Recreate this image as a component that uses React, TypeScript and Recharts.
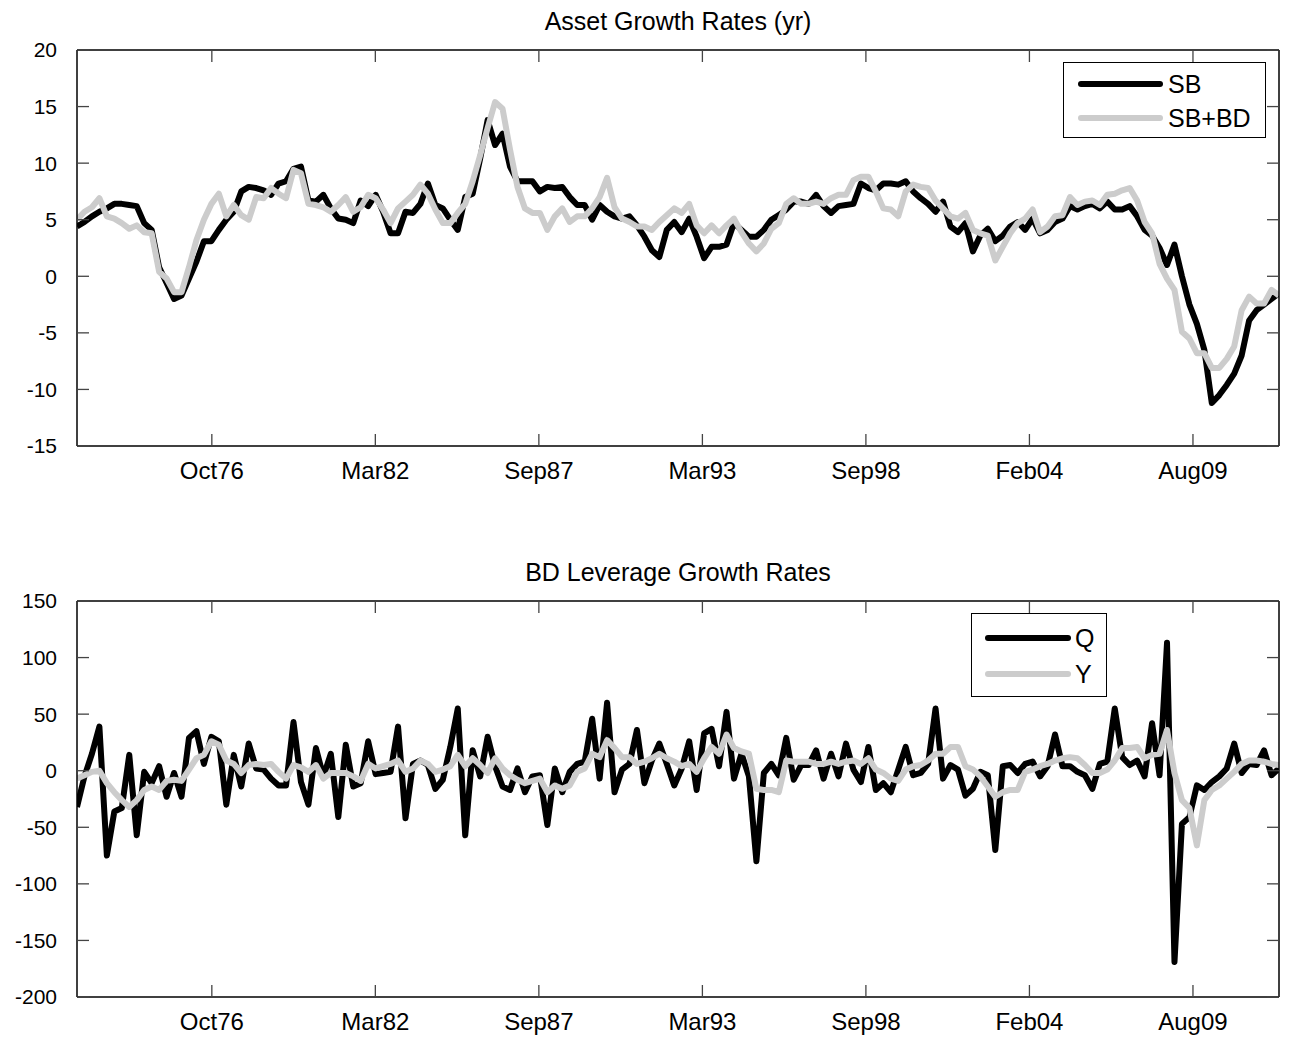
import React from 'react';
import { LineChart, Line, XAxis, YAxis, Legend } from 'recharts';

// quarterly observations, 1972Q1 .. 2012Q2 (x = fractional year at quarter end)
const FIRST_QUARTER_END = 1972.25;

const SB = [
  4.4, 4.8, 5.3, 5.7, 6.0, 6.4, 6.4, 6.3, 6.2, 4.7, 4.1, 0.8, -0.6, -2.0, -1.7, -0.2, 1.3, 3.1, 3.1, 4.1,
  5.0, 5.7, 7.5, 7.9, 7.8, 7.6, 7.2, 8.2, 8.4, 9.5, 9.7, 6.7, 6.6, 7.2, 6.0, 5.1, 5.0, 4.7, 6.7, 6.2,
  7.2, 5.7, 3.8, 3.8, 5.7, 5.6, 6.4, 8.2, 6.3, 6.0, 5.0, 4.1, 7.0, 7.3, 10.4, 13.8, 11.6, 12.6, 9.7, 8.4,
  8.4, 8.4, 7.5, 7.9, 7.8, 7.9, 7.0, 6.3, 6.3, 5.0, 6.3, 5.7, 5.3, 5.1, 5.3, 4.5, 3.5, 2.3, 1.7, 4.1,
  4.8, 3.9, 5.1, 3.5, 1.6, 2.6, 2.6, 2.8, 4.7, 4.1, 3.5, 3.5, 4.1, 5.0, 5.4, 5.9, 6.6, 6.6, 6.4, 7.2,
  6.2, 5.6, 6.2, 6.3, 6.4, 8.2, 7.8, 7.6, 8.2, 8.2, 8.1, 8.4, 7.5, 6.9, 6.4, 5.7, 6.6, 4.4, 3.9, 4.7,
  2.2, 3.6, 4.2, 3.1, 3.6, 4.4, 4.8, 4.1, 5.1, 3.8, 4.1, 4.8, 5.1, 6.2, 5.9, 6.2, 6.4, 6.0, 6.6, 5.9,
  5.9, 6.2, 5.3, 4.1, 3.6, 2.5, 1.0, 2.8, 0.0, -2.5, -4.2, -6.5, -11.2, -10.5, -9.6, -8.6, -7.0, -3.9, -3.0, -2.5,
  -2.0, -1.5,
];

const SB_BD = [
  5.0, 5.7, 6.1, 6.9, 5.3, 5.1, 4.7, 4.2, 4.5, 3.9, 3.8, 0.4, -0.2, -1.4, -1.4, 0.8, 3.2, 5.0, 6.4, 7.3,
  5.3, 6.3, 5.4, 5.0, 7.0, 6.9, 7.8, 7.3, 6.9, 9.4, 9.1, 6.4, 6.3, 6.1, 5.7, 6.3, 7.0, 5.7, 6.1, 7.2,
  6.9, 5.9, 4.7, 6.0, 6.6, 7.2, 8.1, 7.3, 5.9, 4.7, 4.7, 5.6, 6.4, 8.4, 10.7, 13.1, 15.4, 14.8, 11.2, 7.9,
  6.0, 5.6, 5.6, 4.1, 5.3, 6.0, 4.8, 5.3, 5.3, 6.0, 7.0, 8.7, 6.1, 5.1, 4.8, 4.4, 4.4, 4.1, 4.8, 5.4,
  6.0, 5.6, 6.4, 4.5, 3.8, 4.5, 3.8, 4.5, 5.1, 3.9, 2.9, 2.2, 2.9, 4.2, 4.7, 6.4, 6.9, 6.4, 6.4, 6.6,
  6.4, 6.9, 7.2, 7.2, 8.5, 8.8, 8.8, 7.5, 6.0, 5.9, 5.3, 7.5, 8.1, 7.9, 7.8, 6.7, 6.0, 5.3, 5.1, 5.6,
  4.1, 3.8, 3.6, 1.4, 2.6, 3.8, 4.7, 5.1, 5.9, 3.9, 4.4, 5.3, 5.4, 7.0, 6.3, 6.6, 6.7, 6.3, 7.2, 7.3,
  7.6, 7.8, 6.7, 4.8, 3.8, 1.1, -0.2, -1.2, -4.9, -5.5, -6.8, -6.8, -8.1, -8.1, -7.3, -6.2, -3.0, -1.8, -2.4, -2.4,
  -1.2, -1.7,
];

const LEV_Q = [
  -32, -5, 15, 39, -75, -36, -33, 14, -57, -1, -11, 4, -23, -2, -23, 29, 35, 6, 30, 26,
  -30, 14, -14, 24, 2, 1, -7, -13, -13, 43, -10, -30, 20, -5, 15, -41, 23, -14, -11, 26,
  -3, -2, -1, 39, -42, 6, 9, 5, -16, -8, 21, 55, -57, 18, -5, 30, 4, -14, -17, 2,
  -19, -5, -4, -48, 2, -19, -1, 6, 8, 46, -7, 60, -19, 1, 6, 36, -11, 9, 24, 6,
  -13, 2, 26, -17, 33, 37, 4, 52, -7, 15, -5, -80, -2, 6, -4, 29, -8, 5, 5, 18,
  -7, 15, -5, 24, 1, -10, 21, -17, -11, -19, 1, 21, -4, -2, 6, 55, -7, 5, 1, -22,
  -16, -1, -4, -70, 4, 5, -2, 6, 8, -5, 4, 32, 4, 4, -1, -4, -16, 6, 8, 55,
  12, 5, 9, -5, 42, -4, 113, -169, -47, -41, -13, -17, -10, -5, 2, 24, -2, 6, 5, 18,
  -4, 2,
];

const LEV_Y = [
  -7, -4, -1, 0, -11, -19, -26, -32, -26, -17, -14, -17, -9, -8, -9, 1, 11, 14, 26, 23,
  9, 6, -2, 5, 6, 5, 6, -1, -7, 5, 3, -1, 5, -7, -2, -2, -2, -5, -9, 6,
  2, 4, 6, 9, -1, 2, 9, 6, -1, 1, 4, 14, 4, 11, 5, -2, 11, 2, -4, -8,
  -11, -9, -7, -19, -13, -16, -13, -1, 2, 15, 12, 27, 20, 12, 12, 6, 8, 11, 15, 11,
  8, 4, 6, -1, 11, 21, 15, 32, 20, 17, 15, -16, -17, -17, -19, 9, 8, 8, 8, 6,
  6, 8, 6, 8, 9, 6, 11, 1, -2, -7, -9, 1, 4, 5, 9, 15, 15, 21, 21, 4,
  1, -5, -14, -23, -19, -17, -17, -1, 1, 4, 6, 9, 11, 12, 11, 5, -2, -2, 1, 9,
  20, 20, 21, 11, 14, 15, 36, -2, -26, -33, -66, -26, -17, -13, -7, -1, 6, 9, 9, 8,
  6, 5,
];

const X_DOMAIN = [1972.25, 2012.5];
const DATE_TICKS = [1976.765, 1982.24, 1987.716, 1993.192, 1998.667, 2004.143, 2009.619];
const DATE_LABELS = ['Oct76', 'Mar82', 'Sep87', 'Mar93', 'Sep98', 'Feb04', 'Aug09'];
const TOP_Y_TICKS = [-15, -10, -5, 0, 5, 10, 15, 20];
const BOTTOM_Y_TICKS = [-200, -150, -100, -50, 0, 50, 100, 150];

const TOP_TITLE = 'Asset Growth Rates (yr)';
const BOTTOM_TITLE = 'BD Leverage Growth Rates';
const TOP_NAMES = ['SB', 'SB+BD'];
const BOTTOM_NAMES = ['Q', 'Y'];

const FONT = '"Liberation Sans", Arial, Helvetica, sans-serif';
const BLACK = '#000000';
const GRAY = '#cccccc';

const topData = SB.map((v, i) => ({ t: FIRST_QUARTER_END + i * 0.25, a: v, b: SB_BD[i] }));
const bottomData = LEV_Q.map((v, i) => ({ t: FIRST_QUARTER_END + i * 0.25, a: v, b: LEV_Y[i] }));

const dateLabel = (v: number) => {
  const k = DATE_TICKS.findIndex((d) => Math.abs(d - v) < 1e-6);
  return k >= 0 ? DATE_LABELS[k] : '';
};

type BoxSpec = { left: number; top: number; width: number; height: number; lineX: number; lineLen: number; rows: number[]; textX: number };

const BoxLegend = (props: any) => {
  const { payload, spec } = props;
  const s: BoxSpec = spec;
  return (
    <div
      style={{
        position: 'relative',
        width: s.width,
        height: s.height,
        border: '1.3px solid #000',
        boxSizing: 'border-box',
        background: '#fff',
        fontFamily: FONT,
      }}
    >
      {(payload || []).map((p: any, k: number) => (
        <div key={k}>
          <div
            style={{
              position: 'absolute',
              left: s.lineX,
              top: s.rows[k] - 3,
              width: s.lineLen,
              height: 6,
              borderRadius: 3,
              background: p.color,
            }}
          />
          <div
            style={{
              position: 'absolute',
              left: s.textX,
              top: s.rows[k] - 15,
              height: 30,
              lineHeight: '30px',
              fontSize: 25,
              color: '#000',
              whiteSpace: 'nowrap',
            }}
          >
            {p.value}
          </div>
        </div>
      ))}
    </div>
  );
};

type PanelProps = {
  top: number;
  title: string;
  data: any[];
  names: string[];
  yDomain: number[];
  yTicks: number[];
  legend: BoxSpec;
};

const W = 1290;
const H = 520;
const xTickFont = { fontSize: 24, fill: '#000', fontFamily: FONT };
const yTickFont = { fontSize: 21, fill: '#000', fontFamily: FONT };

const Panel = ({ top, title, data, names, yDomain, yTicks, legend }: PanelProps) => (
  <div style={{ position: 'absolute', left: 0, top, width: W, height: H }}>
    <div
      style={{
        position: 'absolute',
        left: 77,
        width: 1202,
        top: 6,
        lineHeight: '30px',
        textAlign: 'center',
        fontSize: 25,
        fontFamily: FONT,
        color: '#000',
        zIndex: 2,
      }}
    >
      {title}
    </div>
    <LineChart width={W} height={H} data={data} margin={{ top: 49, right: 10, bottom: 0, left: 0 }}>
      <XAxis
        xAxisId="b"
        dataKey="t"
        type="number"
        domain={X_DOMAIN}
        allowDataOverflow
        ticks={DATE_TICKS}
        interval={0}
        tickFormatter={dateLabel}
        orientation="bottom"
        height={74}
        tickSize={-12}
        tickMargin={28}
        tick={xTickFont}
        axisLine={{ stroke: BLACK, strokeWidth: 1.5 }}
        tickLine={{ stroke: '#444', strokeWidth: 1.3 }}
      />
      <XAxis
        xAxisId="t"
        dataKey="t"
        type="number"
        domain={X_DOMAIN}
        allowDataOverflow
        ticks={DATE_TICKS}
        interval={0}
        tickFormatter={() => ''}
        orientation="top"
        height={1}
        tickSize={-12}
        tickMargin={0}
        axisLine={{ stroke: BLACK, strokeWidth: 1.5 }}
        tickLine={{ stroke: '#444', strokeWidth: 1.3 }}
      />
      <YAxis
        yAxisId="l"
        type="number"
        domain={yDomain}
        allowDataOverflow
        ticks={yTicks}
        interval={0}
        orientation="left"
        width={77}
        tickSize={-12}
        tickMargin={32}
        tick={yTickFont}
        axisLine={{ stroke: BLACK, strokeWidth: 1.5 }}
        tickLine={{ stroke: '#444', strokeWidth: 1.3 }}
      />
      <YAxis
        yAxisId="r"
        type="number"
        domain={yDomain}
        allowDataOverflow
        ticks={yTicks}
        interval={0}
        orientation="right"
        width={1}
        tickSize={-12}
        tickMargin={0}
        tickFormatter={() => ''}
        axisLine={{ stroke: BLACK, strokeWidth: 1.5 }}
        tickLine={{ stroke: '#444', strokeWidth: 1.3 }}
      />
      <Legend
        layout="vertical"
        align="center"
        verticalAlign="middle"
        wrapperStyle={{ left: legend.left, top: legend.top, width: legend.width, height: legend.height }}
        content={(p: any) => <BoxLegend {...p} spec={legend} />}
      />
      <Line
        xAxisId="b"
        yAxisId="l"
        dataKey="a"
        name={names[0]}
        stroke={BLACK}
        strokeWidth={6}
        dot={false}
        activeDot={false}
        strokeLinejoin="round"
        isAnimationActive={false}
      />
      <Line
        xAxisId="b"
        yAxisId="l"
        dataKey="b"
        name={names[1]}
        stroke={GRAY}
        strokeWidth={6}
        dot={false}
        activeDot={false}
        strokeLinejoin="round"
        isAnimationActive={false}
      />
    </LineChart>
  </div>
);

export default function App() {
  return (
    <div
      style={{
        position: 'absolute',
        left: 0,
        top: 0,
        width: 1290,
        height: 1037,
        background: '#fff',
        overflow: 'hidden',
        fontFamily: FONT,
      }}
    >
      <Panel
        top={0}
        title={TOP_TITLE}
        data={topData}
        names={TOP_NAMES}
        yDomain={[-15, 20]}
        yTicks={TOP_Y_TICKS}
        legend={{ left: 1063, top: 62, width: 203, height: 76, lineX: 14, lineLen: 85, rows: [21, 55], textX: 104 }}
      />
      <Panel
        top={551}
        title={BOTTOM_TITLE}
        data={bottomData}
        names={BOTTOM_NAMES}
        yDomain={[-200, 150]}
        yTicks={BOTTOM_Y_TICKS}
        legend={{ left: 971, top: 62, width: 136, height: 84, lineX: 13, lineLen: 86, rows: [24, 60], textX: 103 }}
      />
    </div>
  );
}
